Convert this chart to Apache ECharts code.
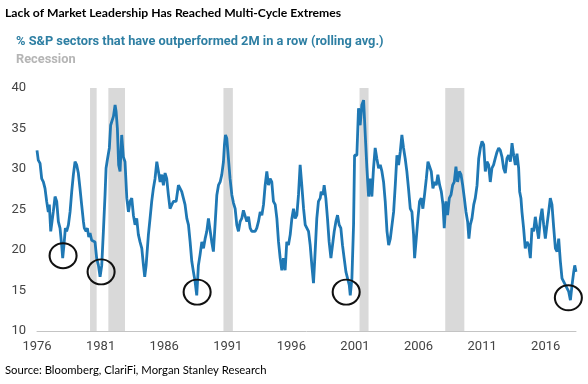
<!DOCTYPE html>
<html>
<head>
<meta charset="utf-8">
<script src="https://cdn.jsdelivr.net/npm/echarts@6/dist/echarts.min.js"></script>
<style>html,body{margin:0;padding:0;background:#fff;}#chart{width:588px;height:384px;}</style>
</head>
<body>
<div id="chart"></div>
<script>
const mainTitle = 'Lack of Market Leadership Has Reached Multi-Cycle Extremes';
const seriesName = '% S&P sectors that have outperformed 2M in a row (rolling avg.)';
const recessionName = 'Recession';
const sourceText = 'Source: Bloomberg, ClariFi, Morgan Stanley Research';

const baseYear = 1976;
const xTickYears = [1976, 1981, 1986, 1991, 1996, 2001, 2006, 2011, 2016];
const yTicks = [10, 15, 20, 25, 30, 35, 40];

const years = [
1976.00,1976.10,1976.24,1976.37,1976.50,1976.63,1976.76,1976.89,1976.97,1977.08,1977.18,1977.28,1977.42,1977.55,1977.68,1977.81,1977.94,
1978.02,1978.12,1978.23,1978.33,1978.47,1978.60,1978.73,1978.86,1978.99,1979.12,1979.25,1979.38,1979.51,1979.65,1979.72,1979.86,1979.96,
1980.07,1980.17,1980.30,1980.43,1980.56,1980.69,1980.83,1980.96,1981.09,1981.22,1981.35,1981.43,1981.53,1981.69,1981.79,1981.90,
1982.01,1982.14,1982.22,1982.32,1982.42,1982.53,1982.66,1982.79,1982.92,1983.06,1983.19,1983.32,1983.45,1983.58,1983.71,1983.84,1983.97,
1984.10,1984.24,1984.37,1984.47,1984.58,1984.76,1984.89,1985.02,1985.15,1985.28,1985.42,1985.55,1985.68,1985.81,1985.94,
1986.07,1986.20,1986.33,1986.46,1986.60,1986.73,1986.94,1987.12,1987.25,1987.38,1987.51,1987.64,1987.78,1987.91,
1988.04,1988.17,1988.30,1988.43,1988.56,1988.69,1988.82,1988.96,1989.09,1989.22,1989.35,1989.48,1989.61,1989.74,1989.87,
1990.00,1990.14,1990.27,1990.40,1990.53,1990.66,1990.74,1990.82,1990.92,1991.05,1991.18,1991.32,1991.45,1991.58,1991.71,1991.84,1991.97,
1992.10,1992.23,1992.37,1992.50,1992.63,1992.76,1992.89,1993.15,1993.28,1993.41,1993.55,1993.68,1993.81,1993.94,
1994.07,1994.20,1994.33,1994.46,1994.59,1994.73,1994.86,1994.99,1995.12,1995.25,1995.38,1995.51,1995.64,1995.77,1995.91,
1996.04,1996.17,1996.30,1996.43,1996.56,1996.69,1996.82,1996.96,1997.09,1997.22,1997.35,1997.48,1997.61,1997.74,1997.87,
1998.00,1998.13,1998.27,1998.34,1998.48,1998.58,1998.71,1998.84,1998.97,1999.11,1999.24,1999.37,1999.50,1999.63,1999.76,1999.89,
2000.02,2000.15,2000.29,2000.42,2000.55,2000.63,2000.76,2000.89,2000.97,2001.15,2001.28,2001.41,2001.54,2001.68,2001.81,2001.94,
2002.07,2002.20,2002.33,2002.46,2002.59,2002.72,2002.86,2002.99,2003.12,2003.25,2003.38,2003.52,2003.65,2003.78,
2004.04,2004.17,2004.30,2004.43,2004.56,2004.69,2004.82,2004.95,2005.08,2005.21,2005.35,2005.48,2005.61,2005.69,2005.82,2005.95,
2006.08,2006.21,2006.34,2006.47,2006.61,2006.74,2006.87,2007.00,2007.13,2007.26,2007.39,2007.52,2007.66,2007.79,2007.92,
2008.02,2008.15,2008.28,2008.42,2008.55,2008.68,2008.81,2008.94,2009.07,2009.21,2009.34,2009.47,2009.60,2009.73,2009.86,2009.96,
2010.07,2010.20,2010.34,2010.46,2010.60,2010.73,2010.86,2010.99,2011.12,2011.25,2011.38,2011.51,2011.64,2011.77,2011.90,
2012.03,2012.17,2012.30,2012.43,2012.56,2012.69,2012.82,2012.95,2013.08,2013.22,2013.35,2013.48,2013.61,2013.74,2013.87,2013.95,
2014.05,2014.13,2014.26,2014.39,2014.53,2014.66,2014.79,2014.92,2015.05,2015.18,2015.31,2015.44,2015.58,2015.71,2015.84,2015.97,
2016.10,2016.23,2016.36,2016.49,2016.63,2016.76,2016.89,2017.02,2017.15,2017.28,2017.41,2017.54,2017.67,2017.80,2017.94,
2018.07,2018.20,2018.28,2018.38
];

const values = [
32.3,31.1,30.7,28.8,28.4,27.6,26.0,24.7,25.6,22.3,22.1,24.7,26.6,26.0,23.5,22.7,20.6,
19.0,20.6,22.7,22.3,23.1,24.7,27.2,29.3,30.9,30.5,29.5,27.6,25.6,23.5,22.7,22.3,22.7,
21.6,22.1,21.2,21.4,21.0,19.0,18.1,16.7,18.1,22.3,26.8,30.1,31.1,32.6,35.4,35.2,
36.5,37.9,37.1,35.0,30.5,29.7,34.2,31.5,30.9,26.4,24.7,26.0,26.4,24.3,23.1,23.9,21.9,
21.0,20.2,18.1,16.7,18.1,21.9,23.9,26.0,27.6,28.8,30.9,29.7,28.4,29.3,28.0,
29.5,28.8,26.8,25.1,25.6,26.0,26.0,28.0,28.0,27.2,26.4,25.6,23.9,23.1,
21.0,18.6,17.3,16.1,14.4,18.1,19.4,21.0,20.2,21.4,22.3,23.9,23.9,21.0,19.8,
23.1,26.8,28.0,28.4,29.3,30.9,33.0,34.2,33.8,31.3,28.8,26.8,25.8,25.1,23.1,22.3,23.5,
23.9,24.9,24.7,23.5,24.1,22.7,22.3,22.3,22.7,23.5,24.7,24.3,25.6,28.0,
29.7,28.0,28.8,28.4,26.0,25.6,23.9,21.0,19.0,17.5,19.0,17.5,21.0,20.6,21.9,
23.9,25.1,23.9,24.3,26.8,30.5,28.0,25.1,23.1,22.7,22.3,20.6,18.1,15.9,19.8,
23.9,26.0,26.4,27.2,26.8,28.0,26.4,23.9,21.0,19.0,19.0,22.3,23.5,24.3,23.1,22.7,
20.6,19.0,17.3,16.5,15.7,14.4,16.5,23.1,31.7,31.7,37.5,35.4,37.9,38.5,34.2,30.1,
26.6,28.8,26.6,30.1,32.6,31.3,30.1,30.5,29.7,28.4,26.0,22.3,20.6,21.4,
24.7,28.0,31.7,30.5,32.1,34.2,32.6,31.3,29.7,27.6,25.1,24.7,21.9,19.0,21.4,23.9,
26.0,26.4,25.1,26.8,28.8,30.9,30.9,29.7,27.6,28.4,28.0,29.3,28.0,27.2,25.6,
22.7,26.0,24.3,26.4,26.8,28.0,28.4,30.3,28.4,29.7,29.3,28.0,26.4,24.7,23.5,21.4,
23.1,23.9,25.6,26.4,28.0,31.3,32.6,33.4,33.0,29.7,30.9,30.5,28.4,30.1,30.5,
31.3,32.1,32.6,32.3,31.5,30.1,29.5,31.3,31.7,30.9,33.2,31.7,30.5,31.9,30.1,27.2,
26.4,24.7,22.7,20.2,21.0,20.6,19.0,22.7,22.3,24.1,22.7,21.4,23.9,25.1,23.1,21.4,
23.1,24.7,26.4,25.6,22.7,20.2,19.8,21.4,18.6,16.5,16.7,15.7,15.3,14.9,13.8,
15.7,17.3,18.1,17.3
];

// recession periods as drawn (decimal years)
const recessionStart = [1980.17, 1981.61, 1990.66, 2001.36, 2008.10];
const recessionEnd   = [1980.69, 1982.92, 1991.40, 2002.07, 2009.60];

// circled lows (decimal year, value)
const circleYears  = [1978.05, 1981.04, 1988.59, 2000.31, 2017.78];
const circleValues = [19.3, 17.3, 14.8, 14.8, 14.1];

const chart = echarts.init(document.getElementById('chart'), null, {renderer: 'canvas'});
const lineData = years.map((y, i) => [y - baseYear, values[i]]);
const xMax = years[years.length - 1] - baseYear;

const option = {
  animation: false,
  backgroundColor: '#ffffff',
  title: [
    {text: mainTitle, left: 5, top: 7, padding: 0,
     textStyle: {fontFamily: 'Lato', fontWeight: 'bold', fontSize: 12.2, color: '#000000'}},
    {text: seriesName, left: 16, top: 35, padding: 0,
     textStyle: {fontFamily: 'Roboto', fontWeight: 'bold', fontSize: 12.8, color: '#2e7fa3'}},
    {text: recessionName, left: 16, top: 53, padding: 0,
     textStyle: {fontFamily: 'Roboto', fontWeight: 'bold', fontSize: 12.8, color: '#b5b5b5'}},
    {text: sourceText, left: 5, top: 365, padding: 0,
     textStyle: {fontFamily: 'Lato', fontWeight: 'normal', fontSize: 11.3, color: '#000000'}}
  ],
  grid: {left: 37, right: 12, top: 88, bottom: 53, containLabel: false},
  xAxis: {
    type: 'value', min: 0, max: xMax, interval: 5,
    axisLine: {show: true, lineStyle: {color: '#c4c4c4', width: 1}},
    axisTick: {show: false}, splitLine: {show: false},
    axisLabel: {
      margin: 9, color: '#444444', fontFamily: 'Roboto', fontSize: 13,
      showMaxLabel: false,
      formatter: v => {
        const yr = Math.round(baseYear + v);
        return xTickYears.indexOf(yr) >= 0 ? String(yr) : '';
      }
    }
  },
  yAxis: {
    type: 'value', min: yTicks[0], max: yTicks[yTicks.length - 1], interval: 5,
    axisLine: {show: false}, axisTick: {show: false}, splitLine: {show: false},
    axisLabel: {margin: 11, color: '#444444', fontFamily: 'Roboto', fontSize: 13}
  },
  series: [
    {
      name: recessionName, type: 'line', data: [], z: 1, silent: true,
      markArea: {
        silent: true,
        itemStyle: {color: '#d9d9d9'},
        data: recessionStart.map((s, i) => [{xAxis: s - baseYear}, {xAxis: recessionEnd[i] - baseYear}])
      }
    },
    {
      name: seriesName, type: 'line', data: lineData, z: 3,
      symbol: 'none', smooth: false,
      lineStyle: {color: '#1f78b4', width: 2.8},
      markPoint: {
        silent: true,
        symbol: 'circle',
        symbolSize: [27, 25],
        itemStyle: {color: 'rgba(0,0,0,0)', borderColor: '#111111', borderWidth: 2},
        label: {show: false},
        data: circleYears.map((y, i) => ({coord: [y - baseYear, circleValues[i]]}))
      }
    }
  ]
};
chart.setOption(option);
</script>
</body>
</html>
